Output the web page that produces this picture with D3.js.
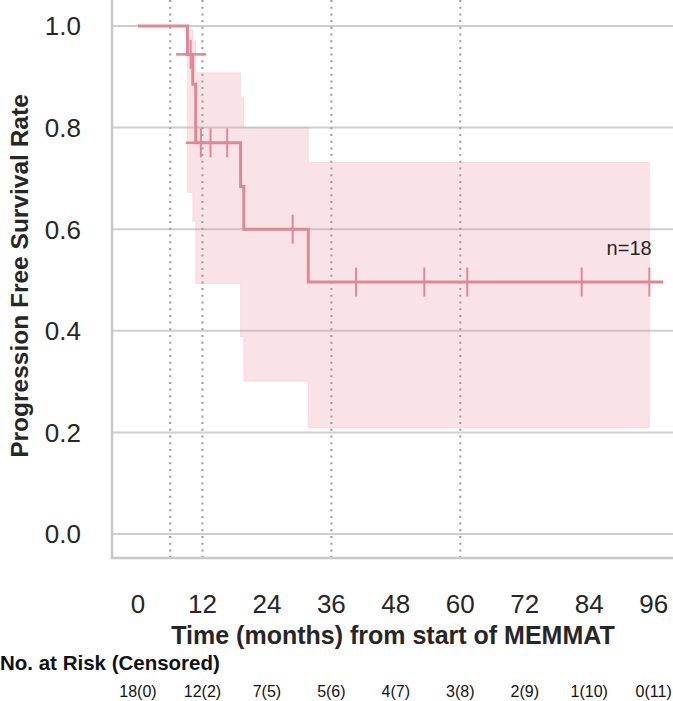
<!DOCTYPE html>
<html><head><meta charset="utf-8">
<script src="https://cdn.jsdelivr.net/npm/d3@7"></script>
<style>
html,body{margin:0;padding:0;background:#fff;}
svg{display:block;font-family:"Liberation Sans",Arial,Helvetica,sans-serif;}
</style></head>
<body>
<svg id="chart" width="673" height="701"></svg>
<script>
// ---- data ----
const stepTimes   = [0, 9.2, 10.2, 10.75, 19.1, 19.7, 31.7];
const survival    = [1.0, 0.944, 0.885, 0.770, 0.684, 0.600, 0.496];
const ciUpper     = [1.0, 0.992, 0.970, 0.908, 0.858, 0.800, 0.732];
const ciLower     = [1.0, 0.672, 0.615, 0.493, 0.388, 0.301, 0.209];
const bandEnd     = 95.2;
const lineEnd     = 97.8;
const censorTimes = [9.8, 11.7, 13.5, 16.6, 28.8, 40.6, 53.3, 61.3, 82.6, 95.2];
const extraMarks  = [{t0: 7.1, t1: 12.7, s: 0.944}, {t0: 8.9, t1: 10.75, s: 0.770}];
const refLines    = [6, 12, 36, 60];
const xTicks      = [0, 12, 24, 36, 48, 60, 72, 84, 96];
const yTicks      = [0.0, 0.2, 0.4, 0.6, 0.8, 1.0];
const riskTimes   = [0, 12, 24, 36, 48, 60, 72, 84, 96];
const riskLabels  = ["18(0)", "12(2)", "7(5)", "5(6)", "4(7)", "3(8)", "2(9)", "1(10)", "0(11)"];
const nLabel      = "n=18";

// ---- layout ----
const svg = d3.select("#chart");
const x = d3.scaleLinear().domain([-4.84, 99.6]).range([112, 673]);
const y = d3.scaleLinear().domain([-0.047, 1.051]).range([558, 0]);
const lineColor = "#dd8898";
const textColor = "#262626";

// gridlines
svg.append("g").selectAll("line").data(yTicks).join("line")
  .attr("x1", x.range()[0]).attr("x2", x.range()[1])
  .attr("y1", d => y(d)).attr("y2", d => y(d))
  .attr("stroke", "#cfcfcf").attr("stroke-width", 2);

// confidence band
const bandData = stepTimes.map((t, i) => ({t, lo: ciLower[i], hi: ciUpper[i]}));
bandData.push({t: bandEnd, lo: ciLower[ciLower.length - 1], hi: ciUpper[ciUpper.length - 1]});
svg.append("path").datum(bandData)
  .attr("d", d3.area().curve(d3.curveStepAfter).x(d => x(d.t)).y0(d => y(d.lo)).y1(d => y(d.hi)))
  .attr("fill", "rgba(238,150,168,0.27)")
  .attr("stroke", "rgba(238,150,168,0.22)").attr("stroke-width", 1);

// dotted reference lines
svg.append("g").selectAll("line").data(refLines).join("line")
  .attr("x1", d => x(d)).attr("x2", d => x(d))
  .attr("y1", 0).attr("y2", y.range()[0])
  .attr("stroke", "#9a9a9a").attr("stroke-width", 2)
  .attr("stroke-dasharray", "2,4.7");

// frame (left + bottom)
svg.append("path")
  .attr("d", `M${x.range()[0]},0V${y.range()[0]}H${x.range()[1]}`)
  .attr("fill", "none").attr("stroke", "#c8c8c8").attr("stroke-width", 2.5);

// survival step line
const lineData = stepTimes.map((t, i) => ({t, s: survival[i]}));
lineData.push({t: lineEnd, s: survival[survival.length - 1]});
svg.append("path").datum(lineData)
  .attr("d", d3.line().curve(d3.curveStepAfter).x(d => x(d.t)).y(d => y(d.s)))
  .attr("fill", "none").attr("stroke", lineColor).attr("stroke-width", 3);

svg.append("g").selectAll("line").data(extraMarks).join("line")
  .attr("x1", d => x(d.t0)).attr("x2", d => x(d.t1))
  .attr("y1", d => y(d.s)).attr("y2", d => y(d.s))
  .attr("stroke", lineColor).attr("stroke-width", 2.5);

// censor marks
const survAt = t => survival[d3.bisectRight(stepTimes, t) - 1];
svg.append("g").selectAll("line").data(censorTimes).join("line")
  .attr("x1", d => x(d)).attr("x2", d => x(d))
  .attr("y1", d => y(survAt(d)) - 14.5).attr("y2", d => y(survAt(d)) + 14.5)
  .attr("stroke", lineColor).attr("stroke-width", 2);

// n label
svg.append("text").attr("x", x(96) - 2).attr("y", 255)
  .attr("text-anchor", "end").attr("font-size", 20).attr("fill", textColor).text(nLabel);

// y tick labels
svg.append("g").selectAll("text").data(yTicks).join("text")
  .attr("x", 81).attr("y", d => y(d)).attr("dy", "0.36em")
  .attr("text-anchor", "end").attr("font-size", 26).attr("fill", textColor)
  .text(d => d3.format(".1f")(d));

// x tick labels
svg.append("g").selectAll("text").data(xTicks).join("text")
  .attr("x", d => x(d)).attr("y", 613)
  .attr("text-anchor", "middle").attr("font-size", 26).attr("fill", textColor)
  .text(d => d);

// axis titles
svg.append("text").attr("x", 393).attr("y", 644)
  .attr("text-anchor", "middle").attr("font-size", 25).attr("font-weight", "bold")
  .attr("fill", textColor).text("Time (months) from start of MEMMAT");

svg.append("text").attr("transform", "translate(28,276) rotate(-90)")
  .attr("text-anchor", "middle").attr("font-size", 24.5).attr("font-weight", "bold")
  .attr("fill", textColor).text("Progression Free Survival Rate");

// at-risk table
svg.append("text").attr("x", 0).attr("y", 670)
  .attr("font-size", 20.5).attr("font-weight", "bold").attr("fill", "#111")
  .text("No. at Risk (Censored)");

svg.append("g").selectAll("text").data(riskTimes).join("text")
  .attr("x", d => x(d)).attr("y", 697)
  .attr("text-anchor", "middle").attr("font-size", 16).attr("fill", "#111")
  .text((d, i) => riskLabels[i]);
</script>
</body></html>
